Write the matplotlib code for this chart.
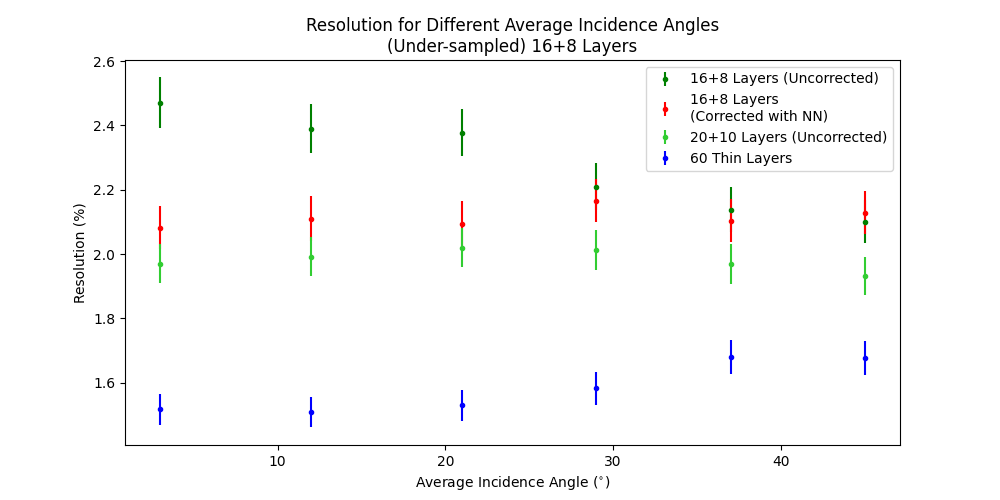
import matplotlib
matplotlib.use('Agg')
import matplotlib.pyplot as plt

# Average incidence angles (degrees)
angles = [3, 12, 21, 29, 37, 45]

# Resolution (%) and uncertainties
res_16_8 = [2.471, 2.390, 2.378, 2.210, 2.138, 2.101]
err_16_8 = [0.078, 0.076, 0.074, 0.073, 0.070, 0.066]

res_16_8_nn = [2.082, 2.110, 2.094, 2.166, 2.104, 2.129]
err_16_8_nn = [0.066, 0.070, 0.070, 0.066, 0.066, 0.068]

res_20_10 = [1.970, 1.992, 2.020, 2.013, 1.970, 1.932]
err_20_10 = [0.060, 0.060, 0.060, 0.063, 0.062, 0.060]

res_60 = [1.518, 1.509, 1.530, 1.583, 1.680, 1.677]
err_60 = [0.048, 0.048, 0.049, 0.051, 0.052, 0.052]

fig, ax = plt.subplots(figsize=(10, 5), dpi=100)

ax.errorbar(angles, res_16_8, yerr=err_16_8, fmt='.', color='green',
            label='16+8 Layers (Uncorrected)')
ax.errorbar(angles, res_16_8_nn, yerr=err_16_8_nn, fmt='.', color='red',
            label='16+8 Layers\n(Corrected with NN)')
ax.errorbar(angles, res_20_10, yerr=err_20_10, fmt='.', color='limegreen',
            label='20+10 Layers (Uncorrected)')
ax.errorbar(angles, res_60, yerr=err_60, fmt='.', color='blue',
            label='60 Thin Layers')

ax.set_title('Resolution for Different Average Incidence Angles\n(Under-sampled) 16+8 Layers')
ax.set_xlabel(r'Average Incidence Angle ($^{\circ}$)')
ax.set_ylabel('Resolution (%)')
ax.legend(loc='upper right')

fig.savefig('out.png')
